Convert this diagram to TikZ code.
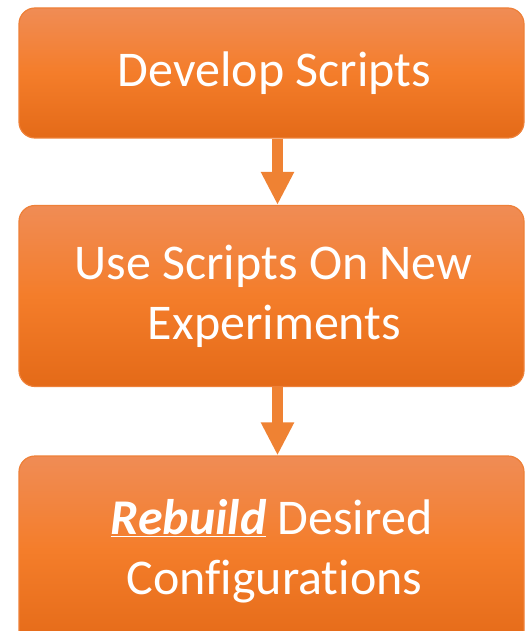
\documentclass[tikz,border=0pt]{standalone}
\usepackage{fontspec}
\setmainfont{Carlito}[RawFeature={-liga;-dlig;-clig}]
\usetikzlibrary{arrows.meta}
\definecolor{otop}{HTML}{F08C55}
\definecolor{omid}{HTML}{F47D2A}
\definecolor{obot}{HTML}{E46A18}
\definecolor{oedge}{HTML}{EE8038}
\definecolor{oarrow}{HTML}{EF8233}
\tikzset{
  flowbox/.style={draw=oedge, line width=1.2pt, rounded corners=16pt,
    top color=otop, bottom color=obot, middle color=omid,
    minimum width=505pt, text=white, align=center,
    font=\fontsize{50}{60}\selectfont, inner sep=0pt},
  flowarrow/.style={draw=oarrow, line width=11pt,
    -{Triangle[width=31pt,length=33pt]}}
}
\begin{document}
\begin{tikzpicture}[x=1pt,y=1pt]
\useasboundingbox (0,0) rectangle (525,-631);
\begin{scope}
\clip (0,0) rectangle (525,-631);
\node[flowbox, minimum height=130pt] (b1) at (271.5,-73) {\hspace*{6pt}Develop Scripts};
\node[flowbox, minimum height=181pt] (b2) at (271.5,-296) {\hspace*{4pt}Use Scripts On New\\\hspace*{6pt}Experiments};
\node[flowbox, minimum height=190pt] (b3) at (271.5,-551) {\underline{\textbf{\textit{Rebuild}}} Desired\\\hspace*{6pt}Configurations};
\coordinate (ax) at (277.5,0);
\draw[flowarrow] (b1.south -| ax) -- (b2.north -| ax);
\draw[flowarrow] (b2.south -| ax) -- (b3.north -| ax);
\end{scope}
\end{tikzpicture}
\end{document}
